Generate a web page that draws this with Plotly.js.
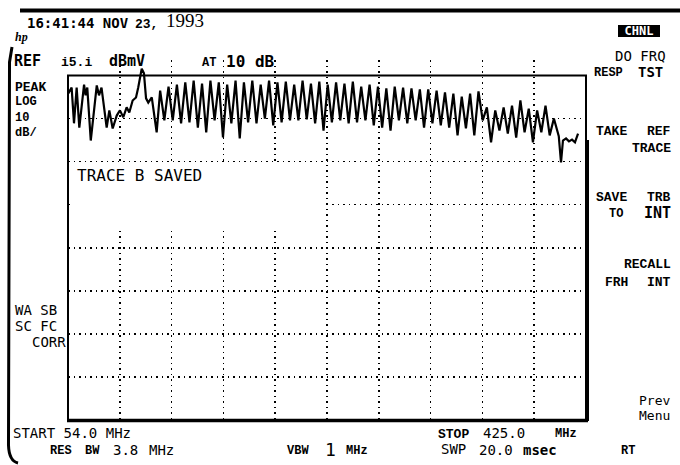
<!DOCTYPE html>
<html><head><meta charset="utf-8">
<script src="https://cdn.plot.ly/plotly-3.0.1.min.js"></script>
<style>html,body{margin:0;padding:0;background:#fff;} #chart{width:680px;height:465px;}</style>
</head><body><div id="chart"></div>
<script>
const freqMHz = [54.2, 56.6, 58.3, 60.2, 62.1, 65.5, 66.6, 67.8, 70.3, 74.6, 76.2, 78.0, 81.7, 83.6, 86.0, 88.9, 91.2, 93.6, 96.0, 97.9, 100.3, 102.7, 104.3, 106.8, 108.4, 109.9, 111.5, 114.0, 117.5,
  120,123,126,129,132,135,138,141,144,147,150,153,156,159,162,165,168,171,174,177,180,183,186,189,192,195,198,201,204,207,210,213,216,219,222,225,228,231,234,237,240,243,246,249,252,255,258,261,264,267,270,273,276,279,282,285,288,291,294,297,300,303,306,309,312,315,318,321,324,327,330,333,336,339,342,345,348,351,354,357,360,363,366,369,372,375,378,381,384,387,390,393,396,399,402,
  405.5, 407.1, 408.5, 410.7, 412.8, 415.0, 417.1, 419.3];
const levelDbmv = [10.9, 12.3, 4.0, 12.3, 3.0, 13.0, 10.5, 12.3, 0.0, 12.8, 10.5, 12.3, 3.0, 7.0, 2.8, 5.8, 7.0, 5.4, 7.7, 6.5, 9.3, 10.0, 12.3, 16.7, 15.6, 9.8, 8.8, 10.0, 1.9,
  11.6,4.7,12.5,4.7,13.0,4.0,13.5,4.2,13.9,3.0,13.2,1.9,13.9,4.7,13.5,0.7,13.0,4.0,13.9,0.5,13.5,4.2,13.9,4.0,13.0,5.1,13.9,3.5,13.5,4.2,13.7,4.7,13.0,4.7,13.9,4.9,13.2,4.0,13.7,2.3,13.0,4.2,13.5,4.7,13.2,4.0,13.7,4.2,12.5,4.7,13.0,3.5,12.5,3.0,12.1,2.3,12.5,4.7,12.3,4.0,12.1,4.7,11.9,3.0,11.9,4.0,11.6,3.5,11.2,3.0,10.9,1.2,10.2,2.8,10.9,1.2,11.4,4.7,7.7,-0.4,7.0,2.3,7.7,1.6,8.1,0.7,9.3,1.9,7.4,-0.4,7.0,1.9,8.1,1.2,5.1,
  1.0, -5.1, 0.0, 0.5, -0.2, 0.2, -0.4, 1.6];
const startMHz = 54.0, stopMHz = 425.0;
const refLevelDbmv = 15.1, dbPerDiv = 10, divisionsY = 8, divisionsX = 10;

// ---- layout geometry ----
const W = 680, H = 465;
const M = {l: 68, r: 94, t: 60, b: 45};
const PW = W - M.l - M.r, PH = H - M.t - M.b;
const gratTopPx = 75.5, gratBotPx = H - M.b;
const bottomDb = refLevelDbmv - dbPerDiv * divisionsY;
const topDb = refLevelDbmv + (gratTopPx - M.t) * (dbPerDiv * divisionsY) / (gratBotPx - gratTopPx);
const px2x = px => (px - M.l) / PW;
const py2y = py => 1 - (py - M.t) / PH;

const MONO = 'DejaVu Sans Mono', COUR = 'Liberation Mono', SERIF = 'Liberation Serif';
function T(text, px, py, o = {}) {
  const a = {
    xref: 'paper', yref: 'paper', x: px2x(px), y: py2y(py),
    text: o.bold === false ? text : '<b>' + text + '</b>',
    showarrow: false, xanchor: o.anchor || 'left', yanchor: 'middle',
    font: {family: o.f || MONO, size: o.s || 14, color: o.c || '#000'},
    borderpad: 0, borderwidth: 0
  };
  if (o.bg) a.bgcolor = o.bg;
  if (o.w) a.width = o.w;
  if (o.h) a.height = o.h;
  if (o.align) a.align = o.align;
  return a;
}

const annotations = [
  T('16:41:44 NOV', 27, 23, {s: 14}),
  T('23,', 135, 25, {f: COUR, s: 13}),
  T('1993', 166, 21, {f: SERIF, s: 19, bold: false}),
  T('<i>hp</i>', 15, 37, {f: SERIF, s: 12}),
  T('REF', 14, 61, {s: 15}),
  T('i5.i', 61, 63, {f: COUR, s: 13}),
  T('dBmV', 109, 61, {s: 15}),
  T('AT', 202, 63, {f: COUR, s: 12}),
  T('10 dB', 226, 61, {s: 16}),
  T('PEAK', 15, 88, {f: COUR, s: 13}),
  T('LOG<br>10<br>dB/', 15, 117, {f: COUR, s: 12, align: 'left'}),
  T('TRACE B SAVED', 77, 175, {s: 16, bold: false}),
  T('WA SB', 15, 310, {s: 14, bold: false}),
  T('SC FC', 15, 326, {s: 14, bold: false}),
  T('CORR', 66, 342, {s: 14, bold: false, anchor: 'right'}),
  T('CHNL', 618, 31, {s: 12, c: '#fff', bg: '#000', w: 42, h: 12, align: 'center'}),
  T('DO FRQ', 615, 56, {s: 14, bold: false}),
  T('RESP', 594, 73, {f: COUR, s: 12}),
  T('TST', 638, 72, {s: 14}),
  T('TAKE', 596, 131, {f: COUR, s: 13}),
  T('REF', 671, 131, {f: COUR, s: 13, anchor: 'right'}),
  T('TRACE', 671, 148, {f: COUR, s: 13, anchor: 'right'}),
  T('SAVE', 596, 197, {f: COUR, s: 13}),
  T('TRB', 671, 197, {f: COUR, s: 13, anchor: 'right'}),
  T('TO', 609, 214, {f: COUR, s: 12}),
  T('INT', 671, 213, {s: 15, anchor: 'right'}),
  T('RECALL', 671, 264, {f: COUR, s: 13, anchor: 'right'}),
  T('FRH', 605, 282, {f: COUR, s: 13}),
  T('INT', 671, 282, {f: COUR, s: 13, anchor: 'right'}),
  T('Prev', 670, 400, {s: 13, bold: false, anchor: 'right'}),
  T('Menu', 670, 415, {s: 13, bold: false, anchor: 'right'}),
  T('START 54.0 MHz', 13, 433, {s: 14, bold: false}),
  T('STOP', 438, 434, {f: COUR, s: 13}),
  T('425.0', 483, 433, {s: 14, bold: false}),
  T('MHz', 555, 434, {f: COUR, s: 12}),
  T('RES', 50, 451, {f: COUR, s: 12}),
  T('BW', 85, 451, {f: COUR, s: 12}),
  T('3.8', 113, 450, {s: 14, bold: false}),
  T('MHz', 149, 450, {s: 14, bold: false}),
  T('VBW', 287, 451, {f: COUR, s: 12}),
  T('1', 325, 449, {s: 18, bold: false}),
  T('MHz', 346, 451, {f: COUR, s: 12}),
  T('SWP', 441, 449, {s: 14, bold: false}),
  T('20.0', 479, 450, {s: 14, bold: false}),
  T('msec', 523, 450, {s: 14}),
  T('RT', 621, 451, {f: COUR, s: 12})
];

const P = (px, py) => px2x(px).toFixed(4) + ',' + py2y(py).toFixed(4);
const shapes = [
  // blanked message area of the graticule
  {type: 'rect', xref: 'paper', yref: 'paper', x0: px2x(70), x1: px2x(324), y0: py2y(229), y1: py2y(164),
   fillcolor: '#fff', line: {width: 0}, layer: 'above'},
  // graticule frame
  {type: 'rect', xref: 'paper', yref: 'paper', x0: px2x(68), x1: px2x(586), y0: py2y(gratBotPx), y1: py2y(gratTopPx),
   line: {color: '#000', width: 2}},
  {type: 'line', xref: 'paper', yref: 'paper', x0: px2x(67), x1: px2x(588), y0: py2y(420.5), y1: py2y(420.5),
   line: {color: '#000', width: 3.5}},
  {type: 'line', xref: 'paper', yref: 'paper', x0: px2x(587), x1: px2x(587), y0: py2y(140), y1: py2y(421),
   line: {color: '#000', width: 4}},
  // heavy top rule
  {type: 'line', xref: 'paper', yref: 'paper', x0: px2x(20), x1: px2x(680), y0: py2y(10.5), y1: py2y(10.5),
   line: {color: '#000', width: 4}},
  // left bracket of the photo
  {type: 'path', xref: 'paper', yref: 'paper',
   path: 'M' + P(12, 47) + ' L' + P(9.5, 62) + ' L' + P(8.5, 445) + ' Q' + P(9, 461) + ' ' + P(18, 463),
   line: {color: '#000', width: 3}}
];

const trace = {
  x: freqMHz, y: levelDbmv, type: 'scatter', mode: 'lines',
  line: {color: '#000', width: 2.2, shape: 'linear'}, hoverinfo: 'skip', showlegend: false
};

const layout = {
  width: W, height: H, margin: M, paper_bgcolor: '#fff', plot_bgcolor: '#fff',
  showlegend: false,
  xaxis: {range: [startMHz, stopMHz], tick0: startMHz, dtick: (stopMHz - startMHz) / divisionsX, tickmode: 'linear',
    showgrid: true, gridcolor: '#000', gridwidth: 1.5, griddash: '1.5px,4px',
    showticklabels: false, ticks: '', zeroline: false, showline: false, fixedrange: true},
  yaxis: {range: [bottomDb, topDb], tick0: refLevelDbmv, dtick: dbPerDiv, tickmode: 'linear',
    showgrid: true, gridcolor: '#000', gridwidth: 1.5, griddash: '1.5px,4px',
    showticklabels: false, ticks: '', zeroline: false, showline: false, fixedrange: true},
  shapes: shapes, annotations: annotations
};

Plotly.newPlot('chart', [trace], layout, {staticPlot: true, displayModeBar: false});
</script>
</body></html>
